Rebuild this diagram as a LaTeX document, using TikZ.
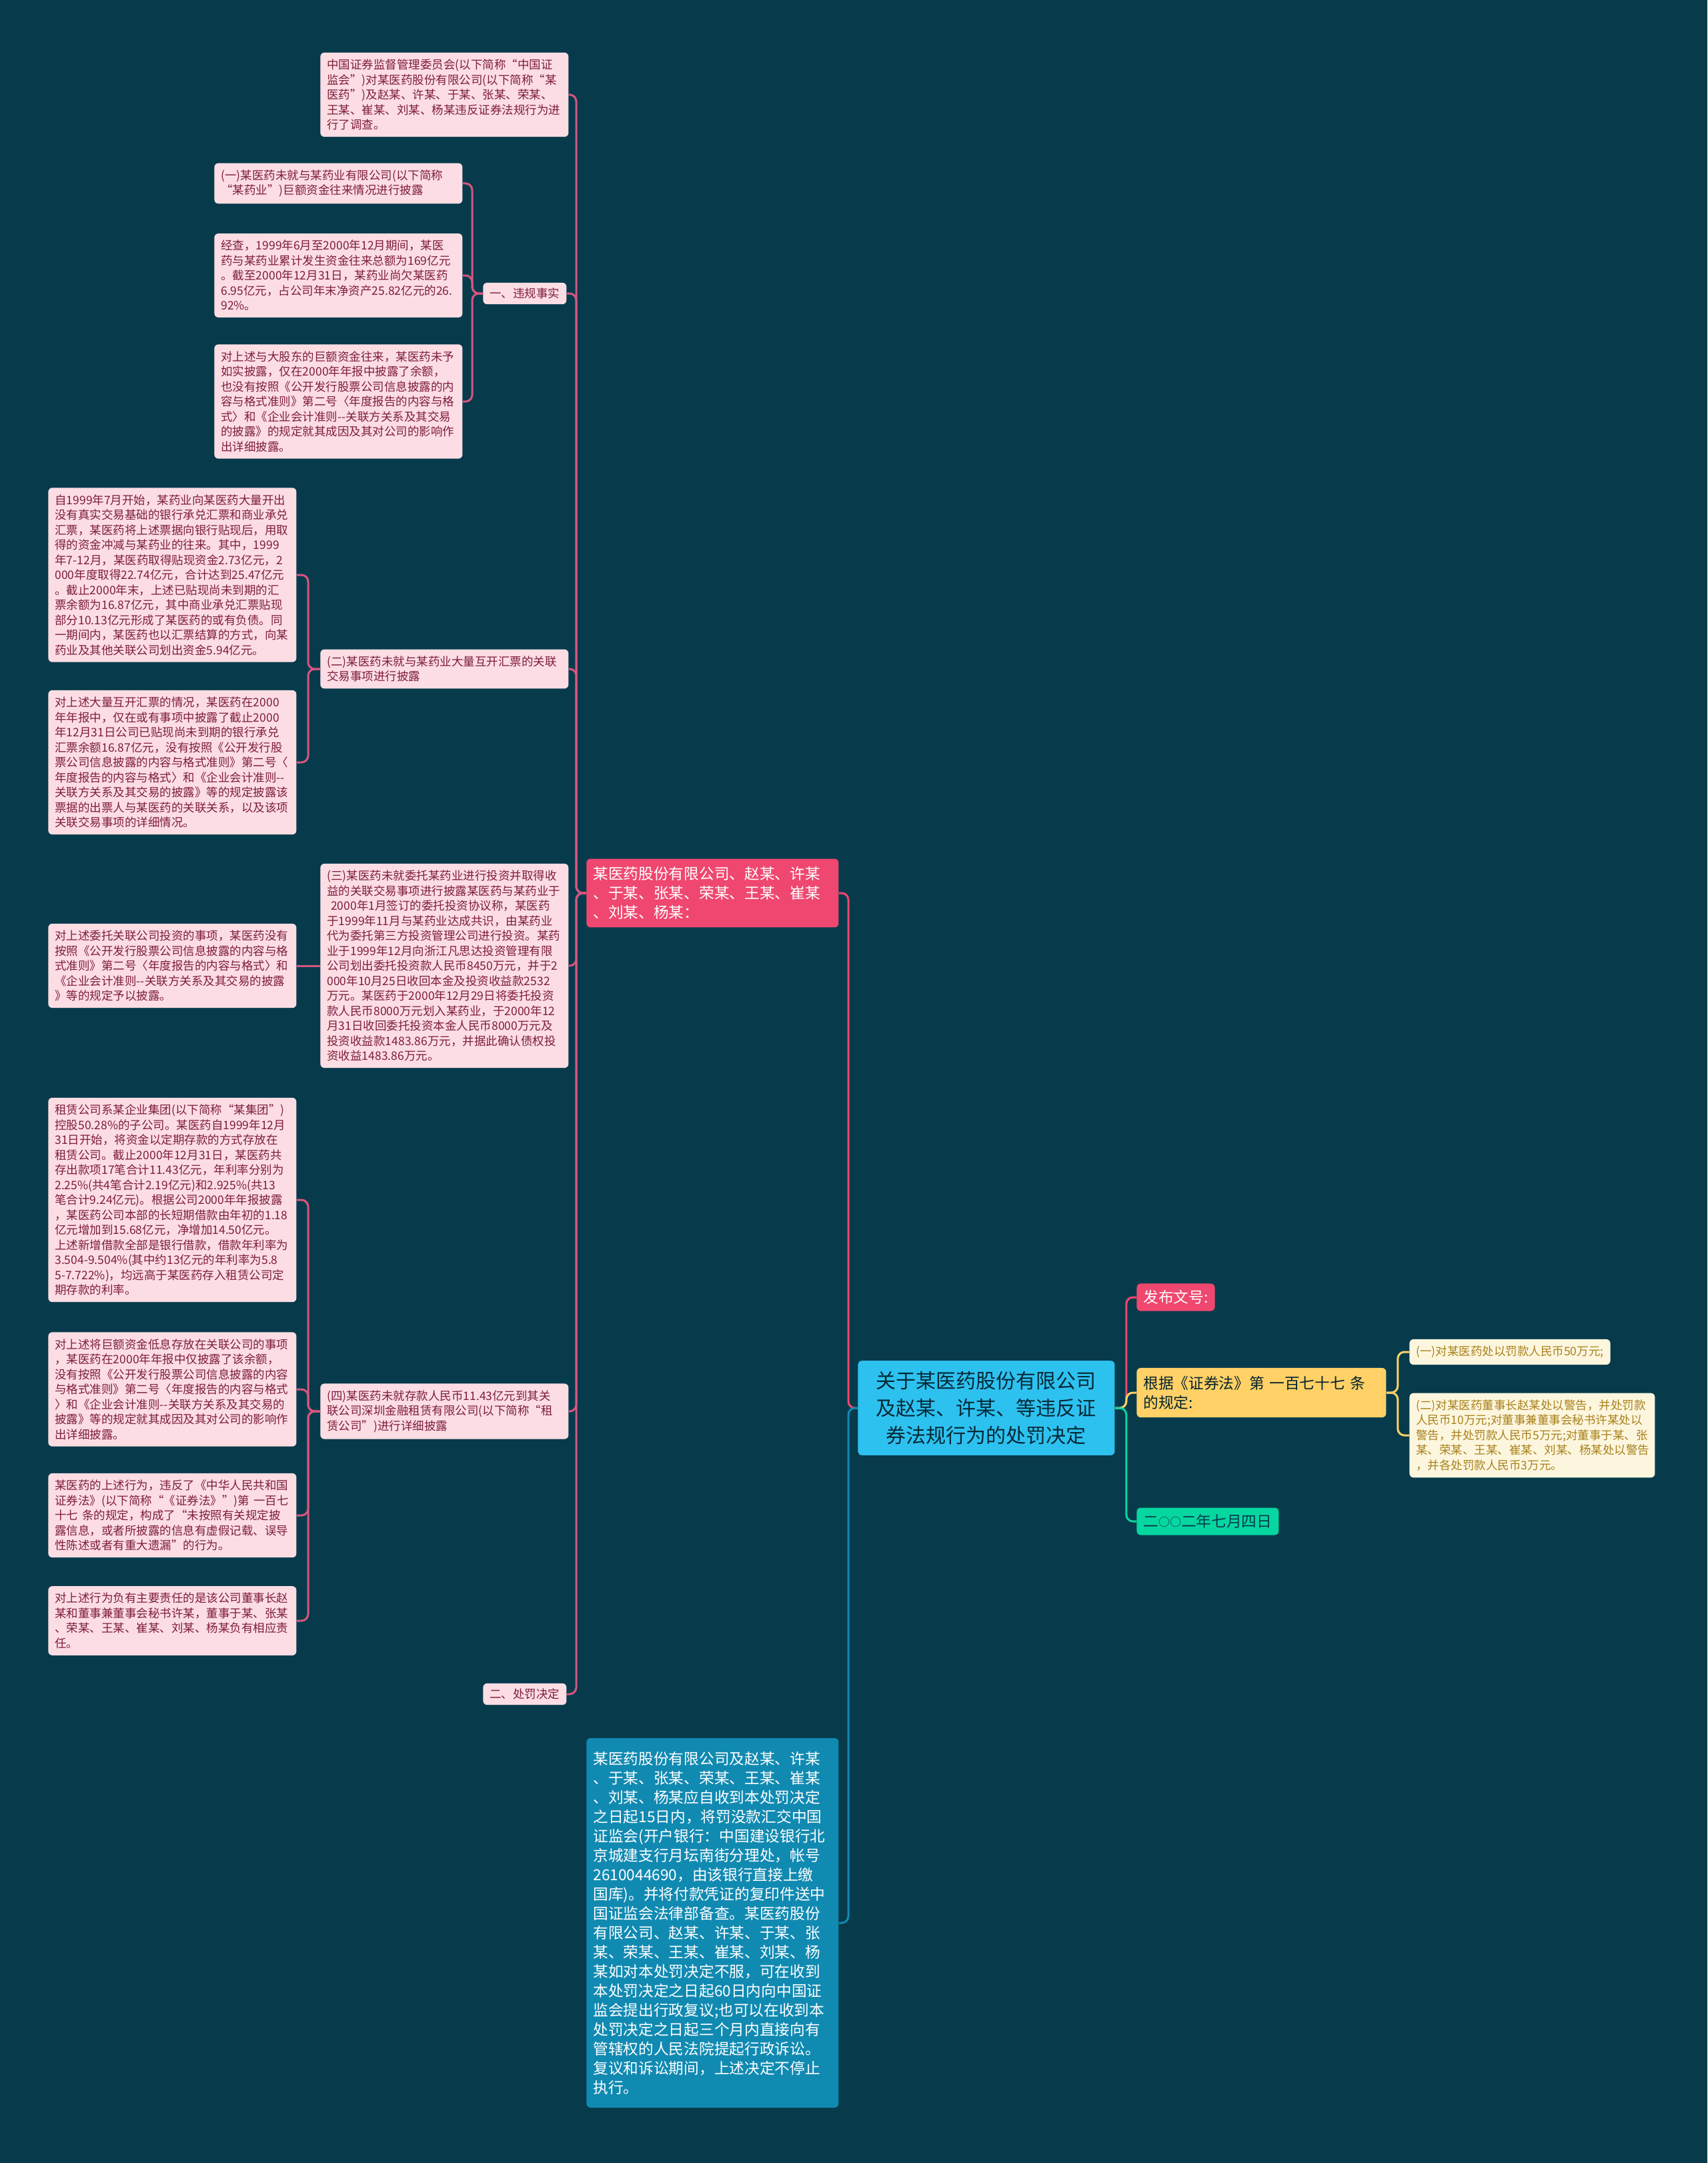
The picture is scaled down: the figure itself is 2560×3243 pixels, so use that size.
\documentclass[tikz,border=0pt]{standalone}
\usepackage{fontspec}
\setmainfont{Noto Sans CJK SC}
\definecolor{bgdark}{HTML}{073B4C}
\definecolor{rosefill}{HTML}{FCDDE4}
\definecolor{rosetext}{HTML}{7E1D3E}
\definecolor{roseline}{HTML}{D8557F}
\definecolor{hotpink}{HTML}{EF476F}
\definecolor{skyblue}{HTML}{2DC1F0}
\definecolor{sunyellow}{HTML}{FFD166}
\definecolor{mintgreen}{HTML}{06D6A0}
\definecolor{deepblue}{HTML}{118AB2}
\definecolor{creamfill}{HTML}{FDF6DF}
\definecolor{goldtext}{HTML}{A8811A}
\newcommand\smallring{\raisebox{0.8pt}{\fontsize{8.5}{10}\selectfont ○}}
\begin{document}
\begin{tikzpicture}[x=0.5pt,y=-0.5pt,
  note/.style={fill=rosefill,text=rosetext,rounded corners=3pt,inner xsep=5pt,inner ysep=5pt,
    text width=176pt,align=left,font=\fontsize{8.75}{11.25}\selectfont,anchor=west},
  tag/.style={fill=rosefill,text=rosetext,rounded corners=3pt,inner xsep=5pt,inner ysep=4pt,
    font=\fontsize{8.75}{11.25}\selectfont,anchor=west},
  big/.style={rounded corners=3pt,inner xsep=5pt,inner ysep=6pt,align=left,
    font=\fontsize{11.35}{14.5}\selectfont,anchor=west},
  cream/.style={note,fill=creamfill,text=goldtext},
  lnk/.style={line width=1.5pt,rounded corners=5pt}]
\fill[bgdark] (0,0) rectangle (2560,3243);
\useasboundingbox (0,0) rectangle (2560,3243);
% left branch
\node[note] (survey) at (480,142) {中国证券监督管理委员会(以下简称“中国证\\监会”)对某医药股份有限公司(以下简称“某\\医药”)及赵某、许某、于某、张某、荣某、\\王某、崔某、刘某、杨某违反证券法规行为进\\行了调查。};
\node[note] (sec1a) at (321,275) {(一)某医药未就与某药业有限公司(以下简称\\“某药业”)巨额资金往来情况进行披露};
\node[note] (sec1b) at (321,413) {经查，1999年6月至2000年12月期间，某医\\药与某药业累计发生资金往来总额为169亿元\\。截至2000年12月31日，某药业尚欠某医药\\6.95亿元，占公司年末净资产25.82亿元的26.\\92\%。};
\node[note] (sec1c) at (321,602) {对上述与大股东的巨额资金往来，某医药未予\\如实披露，仅在2000年年报中披露了余额，\\也没有按照《公开发行股票公司信息披露的内\\容与格式准则》第二号〈年度报告的内容与格\\式〉和《企业会计准则-{}-关联方关系及其交易\\的披露》的规定就其成因及其对公司的影响作\\出详细披露。};
\node[tag] (facts) at (724,440) {一、违规事实};
\node[note] (bill1) at (72,862) {自1999年7月开始，某药业向某医药大量开出\\没有真实交易基础的银行承兑汇票和商业承兑\\汇票，某医药将上述票据向银行贴现后，用取\\得的资金冲减与某药业的往来。其中，1999\\年7-12月，某医药取得贴现资金2.73亿元，2\\000年度取得22.74亿元，合计达到25.47亿元\\。截止2000年末，上述已贴现尚未到期的汇\\票余额为16.87亿元，其中商业承兑汇票贴现\\部分10.13亿元形成了某医药的或有负债。同\\一期间内，某医药也以汇票结算的方式，向某\\药业及其他关联公司划出资金5.94亿元。};
\node[note] (bill2) at (72,1143) {对上述大量互开汇票的情况，某医药在2000\\年年报中，仅在或有事项中披露了截止2000\\年12月31日公司已贴现尚未到期的银行承兑\\汇票余额16.87亿元，没有按照《公开发行股\\票公司信息披露的内容与格式准则》第二号〈\\年度报告的内容与格式〉和《企业会计准则-{}-\\关联方关系及其交易的披露》等的规定披露该\\票据的出票人与某医药的关联关系，以及该项\\关联交易事项的详细情况。};
\node[note] (sec2) at (480,1003) {(二)某医药未就与某药业大量互开汇票的关联\\交易事项进行披露};
\node[note] (sec3) at (480,1448) {(三)某医药未就委托某药业进行投资并取得收\\益的关联交易事项进行披露某医药与某药业于\\~2000年1月签订的委托投资协议称，某医药\\于1999年11月与某药业达成共识，由某药业\\代为委托第三方投资管理公司进行投资。某药\\业于1999年12月向浙江凡思达投资管理有限\\公司划出委托投资款人民币8450万元，并于2\\000年10月25日收回本金及投资收益款2532\\万元。某医药于2000年12月29日将委托投资\\款人民币8000万元划入某药业，于2000年12\\月31日收回委托投资本金人民币8000万元及\\投资收益款1483.86万元，并据此确认债权投\\资收益1483.86万元。};
\node[note] (sec3a) at (72,1448) {对上述委托关联公司投资的事项，某医药没有\\按照《公开发行股票公司信息披露的内容与格\\式准则》第二号〈年度报告的内容与格式〉和\\《企业会计准则-{}-关联方关系及其交易的披露\\》等的规定予以披露。};
\node[note] (lease1) at (72,1799) {租赁公司系某企业集团(以下简称“某集团”)\\控股50.28\%的子公司。某医药自1999年12月\\31日开始，将资金以定期存款的方式存放在\\租赁公司。截止2000年12月31日，某医药共\\存出款项17笔合计11.43亿元，年利率分别为\\2.25\%(共4笔合计2.19亿元)和2.925\%(共13\\笔合计9.24亿元)。根据公司2000年年报披露\\，某医药公司本部的长短期借款由年初的1.18\\亿元增加到15.68亿元，净增加14.50亿元。\\上述新增借款全部是银行借款，借款年利率为\\3.504-9.504\%(其中约13亿元的年利率为5.8\\5-7.722\%)，均远高于某医药存入租赁公司定\\期存款的利率。};
\node[note] (lease2) at (72,2083) {对上述将巨额资金低息存放在关联公司的事项\\，某医药在2000年年报中仅披露了该余额，\\没有按照《公开发行股票公司信息披露的内容\\与格式准则》第二号〈年度报告的内容与格式\\〉和《企业会计准则-{}-关联方关系及其交易的\\披露》等的规定就其成因及其对公司的影响作\\出详细披露。};
\node[note] (sec4) at (480,2116) {(四)某医药未就存款人民币11.43亿元到其关\\联公司深圳金融租赁有限公司(以下简称“租\\赁公司”)进行详细披露};
\node[note] (breach) at (72,2272) {某医药的上述行为，违反了《中华人民共和国\\证券法》(以下简称“《证券法》”)第 一百七\\十七 条的规定，构成了“未按照有关规定披\\露信息，或者所披露的信息有虚假记载、误导\\性陈述或者有重大遗漏”的行为。};
\node[note] (duty) at (72,2430) {对上述行为负有主要责任的是该公司董事长赵\\某和董事兼董事会秘书许某，董事于某、张某\\、荣某、王某、崔某、刘某、杨某负有相应责\\任。};
\node[tag] (penalty) at (724,2540) {二、处罚决定};
\node[big,fill=hotpink,text=white,text width=179pt] (parties) at (879,1339) {某医药股份有限公司、赵某、许某\\、于某、张某、荣某、王某、崔某\\、刘某、杨某：};
\node[big,fill=deepblue,text=white,text width=179pt,inner ysep=10pt] (payment) at (879,2883) {某医药股份有限公司及赵某、许某\\、于某、张某、荣某、王某、崔某\\、刘某、杨某应自收到本处罚决定\\之日起15日内，将罚没款汇交中国\\证监会(开户银行：中国建设银行北\\京城建支行月坛南街分理处，帐号\\2610044690，由该银行直接上缴\\国库)。并将付款凭证的复印件送中\\国证监会法律部备查。某医药股份\\有限公司、赵某、许某、于某、张\\某、荣某、王某、崔某、刘某、杨\\某如对本处罚决定不服，可在收到\\本处罚决定之日起60日内向中国证\\监会提出行政复议;也可以在收到本\\处罚决定之日起三个月内直接向有\\管辖权的人民法院提起行政诉讼。\\复议和诉讼期间，上述决定不停止\\执行。};
% root and right branch
\node[big,fill=skyblue,text=bgdark!70!black,text width=172.5pt,align=center,inner xsep=10pt,inner ysep=8pt,
  font=\fontsize{15}{20.5}\selectfont] (root) at (1286,2111) {关于某医药股份有限公司\\及赵某、许某、等违反证\\券法规行为的处罚决定};
\node[big,fill=hotpink,text=white,inner ysep=5pt] (docno) at (1704,1945) {发布文号:};
\node[big,fill=sunyellow,text=bgdark!60!black,text width=177pt] (basis) at (1704,2088) {根据《证券法》第 一百七十七 条\\的规定:};
\node[big,fill=mintgreen,text=bgdark,inner ysep=5pt] (date) at (1704,2281) {二\smallring\smallring 二年七月四日};
\node[cream,text width=] (fine1) at (2113,2027) {(一)对某医药处以罚款人民币50万元;};
\node[cream,text width=174pt] (fine2) at (2113,2152) {(二)对某医药董事长赵某处以警告，并处罚款\\人民币10万元;对董事兼董事会秘书许某处以\\警告，并处罚款人民币5万元;对董事于某、张\\某、荣某、王某、崔某、刘某、杨某处以警告\\，并各处罚款人民币3万元。};
% connectors
\foreach \n in {survey,facts,sec2,sec3,sec4,penalty}
\draw[lnk,roseline] (parties.west) -- ++(-15,0) |- (\n.east);
\foreach \n in {sec1a,sec1b,sec1c}
\draw[lnk,roseline] (facts.west) -- ++(-16,0) |- (\n.east);
\foreach \n in {bill1,bill2}
\draw[lnk,roseline] (sec2.west) -- ++(-18,0) |- (\n.east);
\draw[lnk,roseline] (sec3.west) -- (sec3a.east);
\foreach \n in {lease1,lease2,breach,duty}
\draw[lnk,roseline] (sec4.west) -- ++(-18,0) |- (\n.east);
\draw[lnk,hotpink] (root.west) -- ++(-14,0) |- (parties.east);
\draw[lnk,deepblue] (root.west) -- ++(-14,0) |- (payment.east);
\draw[lnk,hotpink] (root.east) -- ++(17,0) |- (docno.west);
\draw[lnk,sunyellow] (root.east) -- ++(17,0) |- (basis.west);
\draw[lnk,mintgreen] (root.east) -- ++(17,0) |- (date.west);
\foreach \n in {fine1,fine2}
\draw[lnk,sunyellow] (basis.east) -- ++(17,0) |- (\n.west);
\end{tikzpicture}
\end{document}
